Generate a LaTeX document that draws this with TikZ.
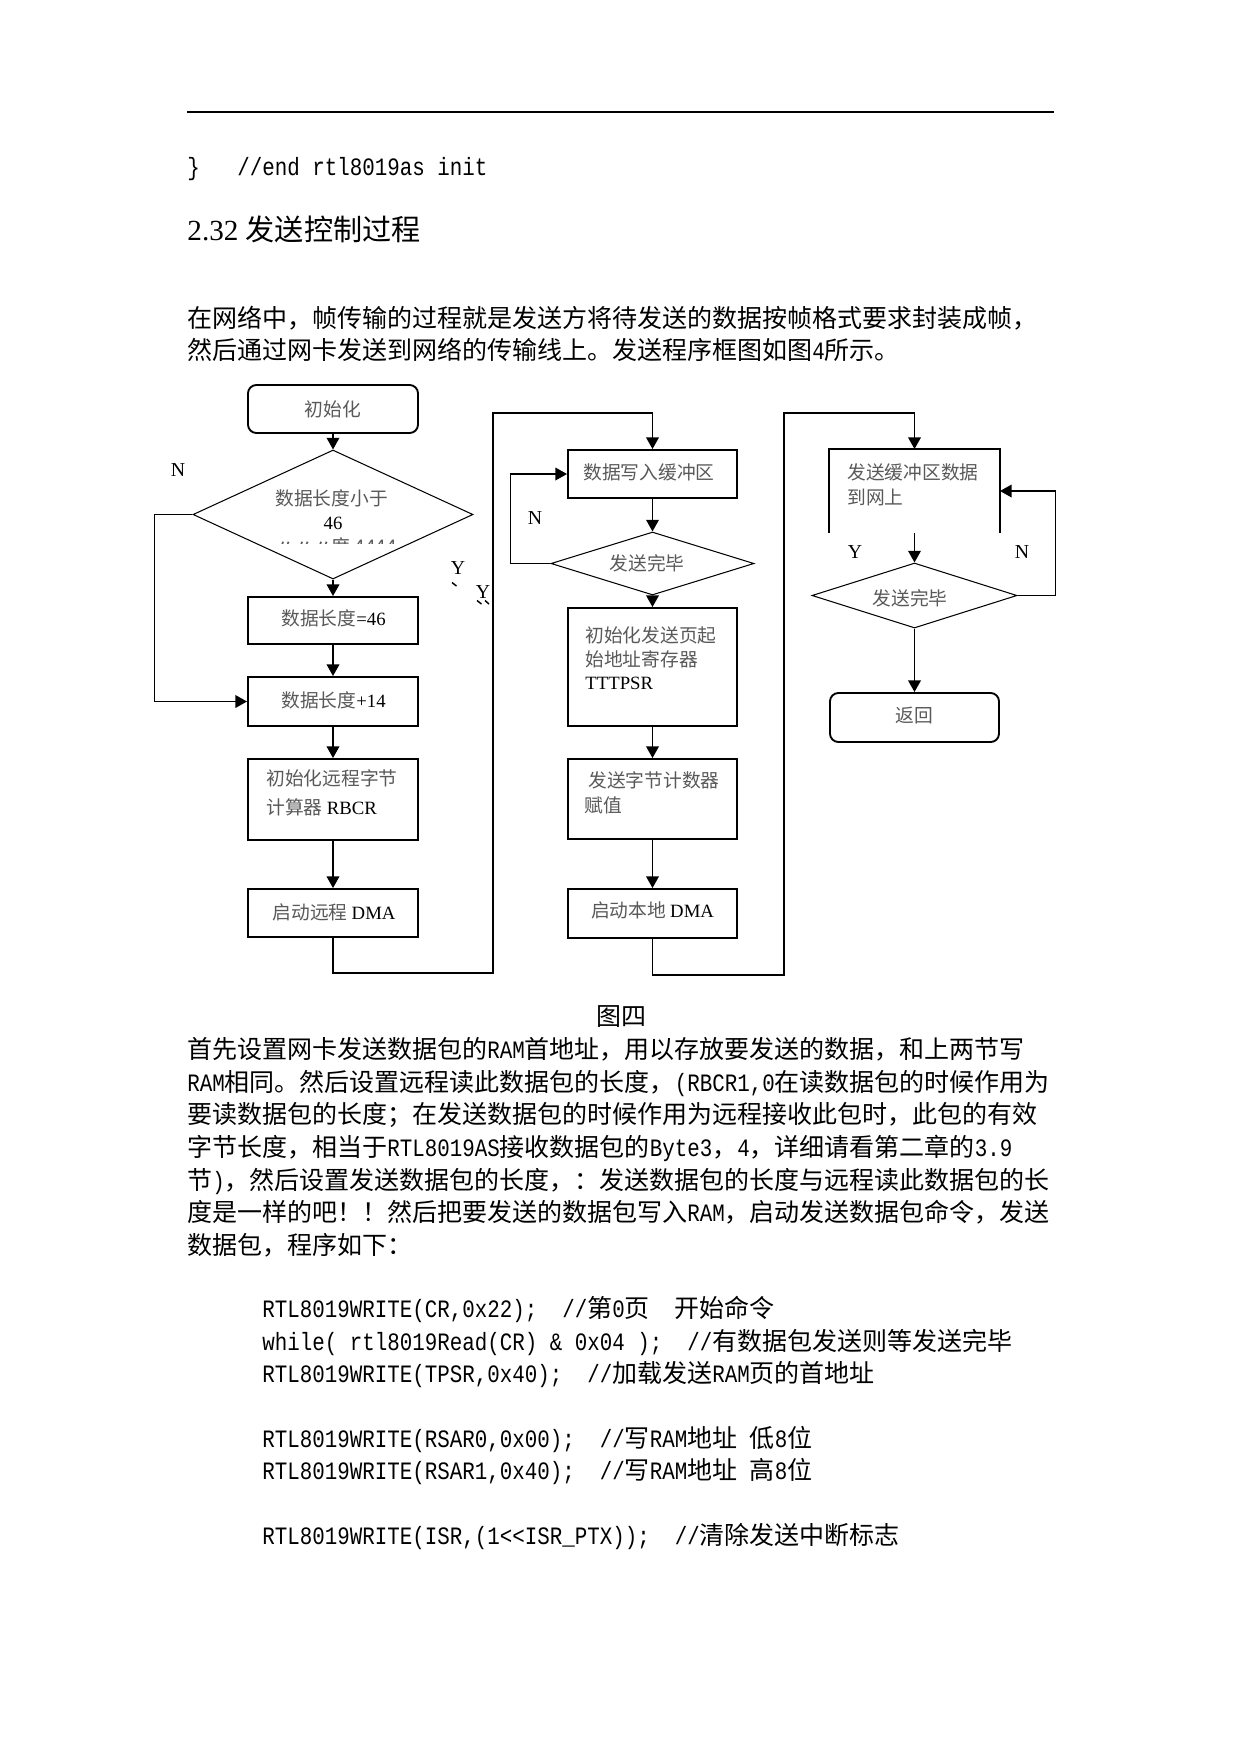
\documentclass[tikz,border=0pt]{standalone}
\usepackage{fontspec}
\setmainfont{Noto Sans CJK SC}
\newfontfamily\hwf{Liberation Mono}[FakeStretch=0.8333]
\newfontfamily\tmsf{Liberation Serif}
\usetikzlibrary{shapes.geometric,arrows.meta}
\newcommand\hw[1]{{\hwf #1}}
\newcommand\latn[1]{{\tmsf\color{black}#1}}
\newcommand\fsb{\fontsize{12pt}{14pt}\selectfont}
\newcommand\fsf{\fontsize{9pt}{11pt}\selectfont}
\tikzset{
  txt/.style={inner sep=0pt, anchor=base west, font=\fsb},
  ftx/.style={inner sep=0pt, anchor=base west, font=\fsf, text=black!65},
  fctr/.style={inner sep=0pt, anchor=base, font=\fsf, text=black!65},
  lbl/.style={inner sep=0pt, font=\tmsf\fontsize{9.5pt}{11pt}\selectfont},
  box/.style={draw, line width=0.9pt, minimum width=81.6pt, inner sep=0pt},
  rbox/.style={box, rounded corners=4pt},
  dia/.style={draw, diamond, line width=0.5pt, inner sep=0pt},
  conn/.style={line width=0.9pt},
  arr/.style={conn, -{Triangle[length=5.6pt,width=6pt]}},
  tick/.style={line width=0.7pt},
}
\begin{document}
\begin{tikzpicture}[x=0.48pt,y=-0.48pt]
\fill[white] (0,0) rectangle (1241,1754);
\useasboundingbox (0,0) rectangle (1241,1754);

% header
\draw[line width=0.5pt] (187,112) -- (1054,112);
\node[txt] (hd1) at (187,175) {\hw{\}}};
\node[txt] (hd2) at (237,175) {\hw{//end rtl8019as init}};
\node[txt, font=\fontsize{14pt}{16pt}\selectfont] (title) at (187,240) {\latn{2.32 }发送控制过程};

% paragraph 1
\node[txt] (p1a) at (187,327) {在网络中，帧传输的过程就是发送方将待发送的数据按帧格式要求封装成帧，};
\node[txt] (p1b) at (187,359) {然后通过网卡发送到网络的传输线上。发送程序框图如图\hw{4}所示。};

% ---------------- flowchart ----------------
% column 1
\node[rbox, minimum height=23.04pt] (A) at (333,409) {};
\node[dia, minimum width=134.4pt, minimum height=61.92pt] (D1) at (333,514.5) {};
\node[box, minimum height=22.56pt] (B) at (333,620.5) {};
\node[box, minimum height=23.52pt] (C) at (333,701.5) {};
\node[box, minimum height=38.88pt] (D) at (333,799.5) {};
\node[box, minimum height=23.04pt] (E) at (333,913) {};
% column 2
\node[box, minimum width=81.12pt, minimum height=23.04pt] (F) at (652.5,474) {};
\node[dia, minimum width=97.44pt, minimum height=30.24pt] (D2) at (652.5,563.5) {};
\node[box, minimum width=81.12pt, minimum height=56.64pt] (G) at (652.5,667) {};
\node[box, minimum width=81.12pt, minimum height=38.4pt] (H) at (652.5,799) {};
\node[box, minimum width=81.12pt, minimum height=23.52pt] (I) at (652.5,913.5) {};
% column 3
\node[box, draw=none, minimum width=81.12pt, minimum height=39.36pt] (J) at (914.5,491) {};
\draw[line width=0.9pt] (J.south west) -- (J.north west) -- (J.north east) -- (J.south east);
\node[dia, minimum width=98.4pt, minimum height=31.2pt] (D3) at (914.5,595.5) {};
\node[rbox, minimum width=81.12pt, minimum height=23.52pt] (K) at (914.5,717.5) {};

% texts in flowchart
\node[fctr] (tA) at (333,416) {初始化};
\node[fctr] (tD1a) at (331.5,505) {数据长度小于};
\node[fctr] (tD1b) at (333,529) {\latn{46}};
\begin{scope}
  \clip (270,530) rectangle (400,543.5);
  \node[fctr] (tD1c) at (336,553) {〃〃〃度 4444};
\end{scope}
\node[fctr] (tB) at (333.5,625) {数据长度\latn{=46}};
\node[fctr] (tC) at (333.5,707) {数据长度\latn{+14}};
\node[ftx] (tD1) at (266,785) {初始化远程字节};
\node[ftx] (tD2) at (266,814) {计算器 \latn{RBCR}};
\node[fctr] (tE) at (334,919) {启动远程 \latn{DMA}};

\node[fctr] (tF) at (649,479) {数据写入缓冲区};
\node[fctr] (tD2t) at (647,570) {发送完毕};
\node[ftx] (tG1) at (585,642) {初始化发送页起};
\node[ftx] (tG2) at (585,666) {始地址寄存器};
\node[ftx] (tG3) at (585,689) {\latn{TTTPSR}};
\node[ftx] (tH1) at (588,787) {发送字节计数器};
\node[ftx] (tH2) at (584,812) {赋值};
\node[fctr] (tI) at (652.5,917) {启动本地 \latn{DMA}};

\node[ftx] (tJ1) at (847,479) {发送缓冲区数据};
\node[ftx] (tJ2) at (847,504) {到网上};
\node[fctr] (tD3t) at (910,605) {发送完毕};
\node[fctr] (tK) at (914,722) {返回};

% Y/N labels
\node[lbl] (n1) at (178,470) {N};
\node[lbl] (y1) at (458,568) {Y};
\node[lbl] (y2) at (483,592) {Y};
\node[lbl] (n2) at (535,518) {N};
\node[lbl] (y3) at (855,552) {Y};
\node[lbl] (n3) at (1022,552) {N};
% small stray marks below the Y labels
\draw[tick] (452,582.5) -- (456.5,586);
\draw[tick] (477,600.5) -- (481.5,604);
\draw[tick] (485,600.5) -- (489,604);

% connectors column 1
\draw[arr] (A.south) -- (D1.north);
\draw[arr] (D1.south) -- (B.north);
\draw[arr] (B.south) -- (C.north);
\draw[arr] (C.south) -- (D.north);
\draw[arr] (D.south) -- (E.north);
\draw[arr] (D1.west) -- ++(-38,0) |- (C.west);
\coordinate (r1) at (493,973);
\coordinate (r2) at (493,413);
\draw[arr] (E.south) |- (r1) -- (r2) -| (F.north);
% column 2
\draw[arr] (F.south) -- (D2.north);
\draw[arr] (D2.west) -- ++(-40,0) |- (F.west);
\draw[arr] (D2.south) -- (G.north);
\draw[arr] (G.south) -- (H.north);
\draw[arr] (H.south) -- (I.north);
\coordinate (r3) at (784,975);
\coordinate (r4) at (784,413);
\draw[arr] (I.south) |- (r3) -- (r4) -| (J.north);
% column 3
\draw[arr] (J.south) -- (D3.north);
\draw[arr] (D3.east) -- ++(38,0) |- (J.east);
\draw[arr] (D3.south) -- (K.north);

% caption
\node[txt, anchor=base] (cap) at (621,1025) {图四};

% paragraph 2
\node[txt] (p2a) at (187,1058) {首先设置网卡发送数据包的\hw{RAM}首地址，用以存放要发送的数据，和上两节写};
\node[txt] (p2b) at (187,1091) {\hw{RAM}相同。然后设置远程读此数据包的长度，\hw{(RBCR1,0}在读数据包的时候作用为};
\node[txt] (p2c) at (187,1123) {要读数据包的长度；在发送数据包的时候作用为远程接收此包时，此包的有效};
\node[txt] (p2d) at (187,1156) {字节长度，相当于\hw{RTL8019AS}接收数据包的\hw{Byte3}，\hw{4}，详细请看第二章的\hw{3.9}};
\node[txt] (p2e) at (187,1189) {节\hw{)}，然后设置发送数据包的长度，：发送数据包的长度与远程读此数据包的长};
\node[txt] (p2f) at (187,1221) {度是一样的吧！！然后把要发送的数据包写入\hw{RAM}，启动发送数据包命令，发送};
\node[txt] (p2g) at (187,1254) {数据包，程序如下：};

% code
\node[txt] (c1a) at (262,1317) {\hw{RTL8019WRITE(CR,0x22);}};
\node[txt] (c1b) at (562,1317) {\hw{//}第\hw{0}页};
\node[txt] (c1c) at (674.5,1317) {开始命令};
\node[txt] (c2a) at (262,1350) {\hw{while(\ rtl8019Read(CR)\ \&\ 0x04\ );}};
\node[txt] (c2b) at (687,1350) {\hw{//}有数据包发送则等发送完毕};
\node[txt] (c3a) at (262,1382) {\hw{RTL8019WRITE(TPSR,0x40);}};
\node[txt] (c3b) at (587,1382) {\hw{//}加载发送\hw{RAM}页的首地址};
\node[txt] (c4a) at (262,1447) {\hw{RTL8019WRITE(RSAR0,0x00);}};
\node[txt] (c4b) at (599.5,1447) {\hw{//}写\hw{RAM}地址};
\node[txt] (c4c) at (749.5,1447) {低\hw{8}位};
\node[txt] (c5a) at (262,1479) {\hw{RTL8019WRITE(RSAR1,0x40);}};
\node[txt] (c5b) at (599.5,1479) {\hw{//}写\hw{RAM}地址};
\node[txt] (c5c) at (749.5,1479) {高\hw{8}位};
\node[txt] (c6a) at (262,1544) {\hw{RTL8019WRITE(ISR,(1<<ISR\_PTX));}};
\node[txt] (c6b) at (674.5,1544) {\hw{//}清除发送中断标志};
\end{tikzpicture}
\end{document}
